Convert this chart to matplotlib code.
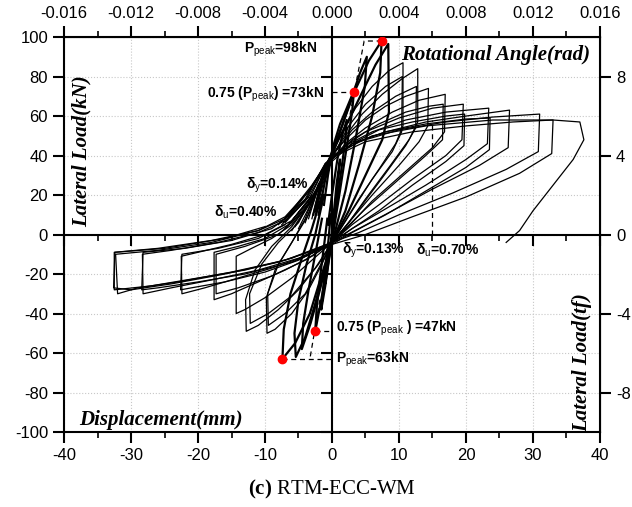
import matplotlib
matplotlib.use('Agg')
import matplotlib.pyplot as plt
from matplotlib.ticker import MultipleLocator, FormatStrFormatter

plt.rcParams['axes.unicode_minus'] = False
plt.rcParams['font.family'] = 'Liberation Sans'
plt.rcParams['mathtext.fontset'] = 'custom'
plt.rcParams['mathtext.rm'] = 'Liberation Sans'
plt.rcParams['mathtext.bf'] = 'Liberation Serif:bold'

# hysteresis cycles: (displacement mm, load kN)
c01 = [(0, -2), (0.3, 12), (0.7, 26), (1.2, 38), (1.0, 30), (0.5, 14), (0, 2), (-0.3, -8),
       (-0.7, -18), (-1.0, -25), (-0.8, -18), (-0.4, -6), (0, -2)]
c02 = [(-0.6, 5), (0, 20), (0.8, 38), (1.5, 50), (2.2, 58), (2.0, 48), (1.2, 28), (0.5, 10),
       (0, -3), (-0.5, -14), (-1.0, -26), (-1.6, -38), (-1.4, -30), (-0.9, -14), (-0.5, -2), (-0.2, 10)]
c03 = [(-1.2, 15), (-0.6, 30), (0.2, 45), (1.2, 56), (2.2, 64), (3.3, 73), (3.0, 62), (2.0, 40),
       (1.0, 18), (0, -3), (-0.8, -18), (-1.6, -33), (-2.5, -49), (-2.3, -38), (-1.8, -22),
       (-1.2, -6), (-0.7, 8)]
c04 = [(-2.0, 10), (-1.0, 28), (0, 40), (1.5, 55), (3.0, 70), (4.2, 82), (5.2, 90), (4.9, 75),
       (3.5, 48), (2, 22), (0.5, 2), (-0.5, -10), (-1.8, -28), (-3.2, -45), (-4.5, -58),
       (-4.3, -45), (-3.5, -28), (-2.5, -10), (-1.5, 8)]
c05 = [(-2.5, 12), (-1.2, 30), (0, 42), (1.5, 55), (3.3, 72), (5.5, 88), (7.4, 98), (7.2, 82),
       (6, 60), (4, 35), (2, 12), (0, -4), (-1.5, -20), (-3.3, -40), (-5.5, -55), (-7.4, -63),
       (-7.2, -48), (-6.2, -30), (-4.5, -12), (-3, 3), (-1.5, 20)]
c06 = [(-2.8, 10), (-1.2, 32), (0.5, 45), (2.5, 58), (4.5, 72), (6.5, 86), (8.4, 96.5), (8.5, 62),
       (7.5, 48), (5, 30), (2.5, 12), (0, -4), (-1.2, -18), (-2.5, -35), (-4, -52), (-5.4, -62),
       (-5.6, -50), (-5, -33), (-3.8, -15), (-2.5, 0), (-1.2, 20)]
c07 = [(-3, 8), (-1.5, 28), (0, 40), (1.5, 52), (3.5, 64), (6, 75), (8.5, 83), (10.6, 87),
       (10.6, 55), (9.5, 46), (7, 33), (4, 18), (2, 7), (0, -4), (-1.5, -15), (-3.5, -28),
       (-6, -40), (-8.5, -48), (-9.7, -50), (-9.8, -32), (-8.5, -18), (-6, -4), (-4, 8), (-2, 26)]
r07 = [(-2.5, 10), (-1, 30), (0.5, 42), (2.5, 55), (5, 66), (8, 75), (10.5, 80), (10.4, 52),
       (9, 42), (6, 28), (3, 12), (0, -4), (-1.5, -14), (-4, -30), (-7, -40), (-9.5, -46),
       (-9.6, -30), (-8, -15), (-6, -4), (-3.5, 10), (-1.5, 28)]
c08 = [(-4, 6), (-2, 25), (0, 40), (2, 50), (4.5, 61), (7.5, 71), (10.5, 79), (12.8, 84),
       (12.8, 57), (11.5, 48), (8.5, 34), (5, 18), (2.5, 6), (0, -4), (-2, -15), (-5, -28),
       (-8, -38), (-11, -46), (-12.8, -49), (-12.9, -33), (-11.5, -18), (-9, -6), (-6, 4), (-3, 18)]
r08 = [(-3.5, 8), (-1.5, 30), (0.5, 42), (3, 53), (6, 62), (9.5, 70), (12.6, 75), (12.5, 54),
       (11, 45), (8, 31), (4.5, 15), (2, 4), (0, -4), (-2.5, -17), (-6, -31), (-9.5, -40),
       (-12.2, -45), (-12.3, -30), (-10.5, -15), (-8, -4), (-5, 6), (-2.5, 22)]
c09 = [(-5, 3), (-2.5, 20), (-0.5, 38), (2, 48), (5, 58), (8, 65), (11, 70), (14.4, 74),
       (14.3, 55), (13, 47), (10, 35), (6, 20), (3, 8), (0, -4), (-3, -13), (-6, -22), (-10, -32),
       (-13, -38), (-14.3, -40), (-14.3, -11), (-12, -7), (-9, -2), (-6, 5), (-3, 17)]
c10 = [(-6, 2), (-3, 18), (-0.5, 36), (2, 46), (5, 54), (9, 62), (13, 68), (16.9, 71),
       (16.8, 52), (15, 44), (11, 32), (6, 17), (3, 6), (0, -4), (-3, -11), (-7, -18), (-11, -24),
       (-15, -30), (-17.6, -33), (-17.6, -9), (-14, -6), (-10, -2), (-6, 6), (-3, 18)]
r10 = [(-5.5, 4), (-2.5, 20), (0, 38), (3, 48), (7, 56), (11, 62), (14.5, 65), (16.6, 66),
       (16.5, 48), (14, 40), (10, 28), (5, 13), (2, 3), (0, -4), (-4, -13), (-9, -21),
       (-14, -27), (-17.3, -30), (-17.3, -10), (-13, -6), (-8, 0), (-4.5, 11)]
c11 = [(-7, 3), (-3.5, 17), (-1, 35), (2, 45), (5, 52), (10, 59), (15, 64), (19.6, 66),
       (19.4, 48), (17, 40), (12, 28), (7, 15), (3, 5), (0, -4), (-4, -11), (-9, -17), (-14, -22),
       (-19, -27), (-22.4, -30), (-22.5, -11), (-20, -9), (-15, -5), (-10, 0), (-6, 7), (-3, 20)]
r11 = [(-6.5, 5), (-3, 19), (0, 37), (3, 46), (7, 53), (12, 57), (17, 60), (19.8, 61),
       (19.7, 45), (17, 37), (12, 25), (7, 12), (3, 3), (0, -4), (-5, -13), (-10, -19),
       (-16, -24), (-21, -27), (-22.6, -28), (-22.4, -10), (-17, -7), (-11, -2), (-7, 5)]
c12 = [(-7.5, 5), (-4, 17), (-1, 36), (2, 45), (6, 52), (11, 58), (17, 62), (23.4, 64),
       (23.2, 46), (20, 38), (14, 25), (8, 13), (3, 3), (0, -4), (-5, -12), (-11, -18), (-18, -23),
       (-24, -27), (-28.2, -30), (-28.3, -10), (-24, -8), (-17, -4), (-11, 1), (-7, 7), (-3.5, 19)]
r12 = [(-7, 6), (-3.5, 19), (-0.5, 37), (3, 46), (8, 52), (14, 56), (20, 58.5), (23.6, 59),
       (23.5, 43), (20, 34), (14, 22), (8, 10), (3, 1), (0, -5), (-6, -14), (-13, -20),
       (-20, -24), (-26, -27), (-28.4, -28), (-28.2, -9), (-22, -7), (-15, -3), (-9, 3), (-5.5, 12)]
c13 = [(-8, 5), (-4, 18), (-1, 36), (3, 46), (8, 52), (14, 57), (20, 60), (26.5, 63),
       (26.3, 44), (22, 35), (15, 23), (9, 12), (4, 3), (0, -4), (-6, -12), (-13, -18), (-20, -22),
       (-27, -26), (-32.5, -28), (-32.5, -9), (-26, -7), (-18, -3), (-11, 2), (-7, 9), (-3.5, 22)]
c14 = [(-7, 8), (-3.5, 22), (-0.5, 38), (4, 47), (10, 53), (17, 57), (24, 59.5), (31, 61),
       (30.8, 42), (26, 33), (18, 21), (10, 10), (4, 1), (0, -4), (-7, -13), (-15, -19),
       (-23, -24), (-29, -27), (-32, -30), (-32.3, -10), (-26, -8), (-18, -4), (-11, 2), (-7, 8)]
r14 = [(-6.5, 9), (-3, 24), (0, 39), (5, 47), (12, 52), (20, 55), (27, 57), (33, 58),
       (32.8, 41), (28, 31), (20, 19), (12, 9), (5, 0), (0, -5), (-8, -14), (-16, -20),
       (-24, -25), (-30, -28), (-32.6, -27), (-32.4, -9), (-25, -7), (-16, -2), (-10, 4)]
c15 = [(-7, 8), (-3, 25), (0, 40), (6, 50), (14, 55), (24, 58), (33, 58), (37, 57), (37.6, 48),
       (36, 38), (33, 25), (30, 12), (28, 2), (26, -4)]

thick_cycles = [c01, c02, c03, c04, c05, c06]
thin_cycles = [c07, r07, c08, r08, c09, c10, r10, c11, r11, c12, r12, c13, c14, r14, c15]

# characteristic points
peak_pts = [(7.4, 98), (-7.4, -63)]
yield_pts = [(3.3, 72), (-2.5, -49)]

fig = plt.figure(figsize=(6.32, 5.07), dpi=100)
ax = fig.add_axes([0.1013, 0.1479, 0.848, 0.779])

for c in thick_cycles:
    ax.plot([p[0] for p in c], [p[1] for p in c], color='black', lw=1.6, zorder=3)
for c in thin_cycles:
    ax.plot([p[0] for p in c], [p[1] for p in c], color='black', lw=0.9, zorder=3)

# dashed idealisation lines
dash = dict(color='black', lw=0.9, ls=(0, (4, 3)), zorder=4)
ax.plot([0, 3.3], [72, 72], **dash)
ax.plot([2.2, 4.8, 7.4], [52, 98, 98], **dash)
ax.plot([15, 15], [0, 58], **dash)
ax.plot([-2.5, 0], [-49, -49], **dash)
ax.plot([-7.4, 0], [-63, -63], **dash)
ax.plot([-1.8, -3.3], [-33, -63], **dash)

ax.plot([p[0] for p in peak_pts + yield_pts], [p[1] for p in peak_pts + yield_pts], 'o',
        color='red', ms=6, zorder=6)

ax.set_xlim(-40, 40)
ax.set_ylim(-100, 100)
ax.xaxis.set_major_locator(MultipleLocator(10))
ax.xaxis.set_minor_locator(MultipleLocator(5))
ax.yaxis.set_major_locator(MultipleLocator(20))
ax.grid(True, color='#c8c8c8', ls=':', lw=0.8)
ax.set_axisbelow(True)
for s in ax.spines.values():
    s.set_linewidth(1.5)
ax.tick_params(which='major', direction='out', length=8, width=1.5, labelsize=12, right=False)
ax.tick_params(which='minor', direction='out', length=4, width=1.2)

top = ax.secondary_xaxis('top', functions=(lambda x: x / 2500, lambda r: r * 2500))
top.set_xticks([-0.016, -0.012, -0.008, -0.004, 0.0, 0.004, 0.008, 0.012, 0.016])
top.xaxis.set_minor_locator(MultipleLocator(0.002))
top.xaxis.set_major_formatter(FormatStrFormatter('%.3f'))
top.tick_params(which='major', direction='out', length=8, width=1.5, labelsize=12)
top.tick_params(which='minor', direction='out', length=4, width=1.2)

right = ax.secondary_yaxis('right', functions=(lambda y: y / 10, lambda t: t * 10))
right.set_yticks([-8, -4, 0, 4, 8])
right.tick_params(which='major', direction='out', length=8, width=1.5, labelsize=12)

# axes through the origin
ax0 = fig.add_axes(ax.get_position(), sharex=ax, sharey=ax)
ax0.patch.set_visible(False)
ax0.spines['top'].set_visible(False)
ax0.spines['right'].set_visible(False)
ax0.spines['left'].set_position(('data', 0))
ax0.spines['bottom'].set_position(('data', 0))
ax0.spines['left'].set_linewidth(1.5)
ax0.spines['bottom'].set_linewidth(1.5)
ax0.tick_params(which='both', labelbottom=False, labelleft=False)
ax0.tick_params(which='major', direction='out', length=8, width=1.5)
ax0.tick_params(which='minor', direction='out', length=4, width=1.2)

lab = dict(fontsize=10, fontweight='bold', va='center', zorder=7)
ax.text(-2.2, 94, r'P$_{\rm peak}$=98kN', ha='right', **lab)
ax.text(-1.2, 71, r'0.75 (P$_{\rm peak}$) =73kN', ha='right', **lab)
ax.text(-12.8, 25, r'δ$_{\rm y}$=0.14%', ha='left', **lab)
ax.text(-17.6, 11.5, r'δ$_{\rm u}$=0.40%', ha='left', **lab)
ax.text(1.5, -8, r'δ$_{\rm y}$=0.13%', ha='left', **lab)
ax.text(12.5, -8, r'δ$_{\rm u}$=0.70%', ha='left', **lab)
ax.text(0.6, -47.5, r'0.75 (P$_{\rm peak}$ ) =47kN', ha='left', **lab)
ax.text(0.6, -63, r'P$_{\rm peak}$=63kN', ha='left', **lab)

serif = dict(family='Liberation Serif', fontweight='bold', style='italic', fontsize=15, zorder=7)
ax.text(10.3, 91, 'Rotational Angle(rad)', ha='left', va='center', **serif)
ax.text(-37.3, 42, 'Lateral Load(kN)', ha='center', va='center', rotation=90, **serif)
ax.text(37.3, -65, 'Lateral Load(tf)', ha='center', va='center', rotation=90, **serif)
ax.text(-37.8, -94, 'Displacement(mm)', ha='left', va='center', **serif)

fig.text(0.525, 0.034, r'$\bf{(c)}$ RTM-ECC-WM', ha='center', va='center',
         family='Liberation Serif', fontsize=15)

plt.savefig('out.png', dpi=100)
